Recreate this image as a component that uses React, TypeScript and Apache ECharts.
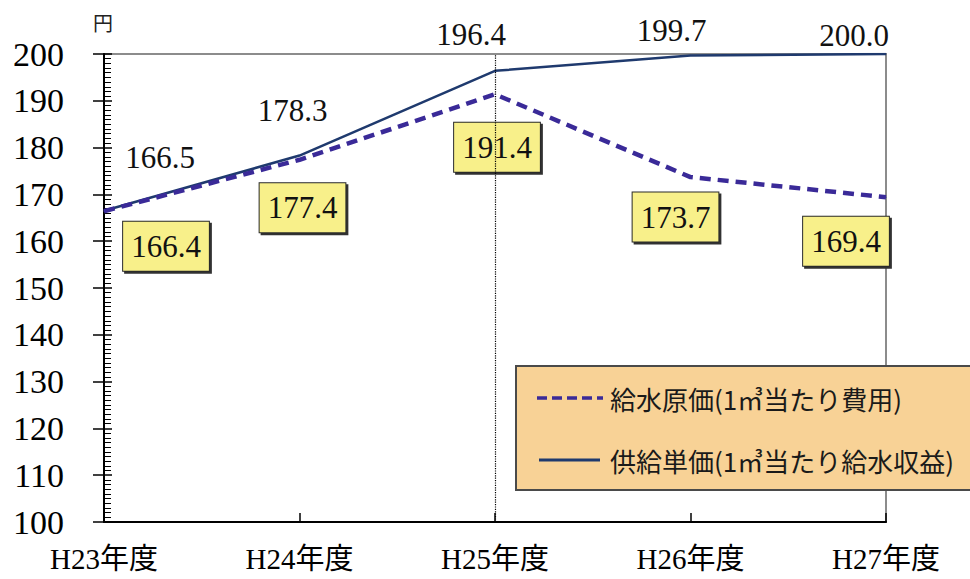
import React, { useEffect, useRef } from "react";
import * as echarts from "echarts";

// Fiscal years on the category axis
const categories = ["H23年度", "H24年度", "H25年度", "H26年度", "H27年度"];
// 給水原価 (cost per m³), yen
const costValues = [166.4, 177.4, 191.4, 173.7, 169.4];
// 供給単価 (revenue per m³), yen
const priceValues = [166.5, 178.3, 196.4, 199.7, 200.0];
// Value axis ticks
const yMin = 100;
const yMax = 200;
const yStep = 10;

const costName = "給水原価(1㎥当たり費用)";
const priceName = "供給単価(1㎥当たり給水収益)";

const COST_COLOR = "#3A2A98";
const PRICE_COLOR = "#1F3A6E";

// Label placement relative to each point (pixels)
const costLabelOffsets = [
  [62, 35],
  [3, 48],
  [2, 53],
  [-15, 40],
  [-40, 44],
];
const priceLabelOffsets = [
  [56, -53],
  [-7, -45],
  [-24, -36],
  [-19, -25],
  [-32, -19],
];

const NUM_FONT = "'Liberation Serif', 'Times New Roman', 'Noto Sans CJK JP', serif";
const CJK_FONT = "'Noto Sans CJK JP', 'Liberation Serif', serif";

export default function App() {
  const ref = useRef<HTMLDivElement>(null);

  useEffect(() => {
    if (!ref.current) return;
    const chart = echarts.init(ref.current, null, { renderer: "svg" });

    const costData = costValues.map((v, i) => ({
      value: v,
      label: { offset: costLabelOffsets[i] },
    }));
    const priceData = priceValues.map((v, i) => ({
      value: v,
      label: { offset: priceLabelOffsets[i] },
    }));

    chart.setOption({
      animation: false,
      backgroundColor: "#ffffff",
      grid: {
        left: 104,
        right: 84,
        top: 54,
        bottom: 57,
        show: true,
        borderColor: "#8c8c8c",
        borderWidth: 2,
        backgroundColor: "transparent",
      },
      graphic: [
        {
          // legend panel
          type: "group",
          silent: true,
          z: 10,
          children: [
            {
              type: "rect",
              shape: { x: 516, y: 366, width: 480, height: 124 },
              style: { fill: "#F8D296", stroke: "#4a4a4a", lineWidth: 2 },
            },
            {
              type: "line",
              shape: { x1: 537, y1: 398, x2: 603, y2: 398 },
              style: { stroke: COST_COLOR, lineWidth: 3.5, lineDash: [10, 5] },
            },
            {
              type: "text",
              x: 610,
              y: 398,
              style: {
                text: costName,
                font: `26px ${CJK_FONT}`,
                fill: "#1a1a1a",
                textVerticalAlign: "middle",
              },
            },
            {
              type: "line",
              shape: { x1: 539, y1: 460, x2: 600, y2: 460 },
              style: { stroke: PRICE_COLOR, lineWidth: 3 },
            },
            {
              type: "text",
              x: 610,
              y: 460,
              style: {
                text: priceName,
                font: `26px ${CJK_FONT}`,
                fill: "#1a1a1a",
                textVerticalAlign: "middle",
              },
            },
          ],
        },
        {
          type: "text",
          left: 93,
          top: 12,
          style: { text: "円", font: `20px ${CJK_FONT}`, fill: "#222" },
        },
      ],
      xAxis: {
        type: "category",
        data: categories,
        boundaryGap: false,
        axisLine: { lineStyle: { color: "#000", width: 2 } },
        axisTick: { show: true, inside: true, length: 9, lineStyle: { color: "#000", width: 1.5 } },
        axisLabel: {
          margin: 22,
          fontFamily: NUM_FONT,
          fontSize: 29,
          color: "#000",
        },
        splitLine: { show: false },
      },
      yAxis: [
        {
          type: "value",
          min: yMin,
          max: yMax,
          interval: yStep,
          axisLine: { show: true, lineStyle: { color: "#000", width: 2 } },
          axisTick: { show: true, length: 11, lineStyle: { color: "#000", width: 1.5 } },
          axisLabel: {
            margin: 40,
            fontFamily: NUM_FONT,
            fontSize: 34,
            color: "#000",
          },
          splitLine: { show: false },
        },
        {
          type: "value",
          position: "left",
          min: yMin,
          max: yMax,
          interval: yStep,
          axisLine: { show: false },
          axisLabel: { show: false },
          axisTick: { show: true, inside: true, length: 8, lineStyle: { color: "#000", width: 1.5 } },
          minorTick: { show: true, splitNumber: 10, length: 7, lineStyle: { color: "#000", width: 1 } },
          splitLine: { show: false },
        },
      ],
      series: [
        {
          name: priceName,
          type: "line",
          data: priceData,
          symbol: "circle",
          symbolSize: 1,
          z: 3,
          itemStyle: { color: PRICE_COLOR },
          lineStyle: { color: PRICE_COLOR, width: 2.5, type: "solid" },
          label: {
            show: true,
            position: "inside",
            formatter: (p: any) => Number(p.value).toFixed(1),
            fontFamily: NUM_FONT,
            fontSize: 31,
            color: "#111",
          },
          markLine: {
            silent: true,
            symbol: "none",
            label: { show: false },
            lineStyle: { color: "#000", type: "dotted", width: 1.2 },
            data: [{ xAxis: categories[2] }],
          },
        },
        {
          name: costName,
          type: "line",
          data: costData,
          symbol: "circle",
          symbolSize: 1,
          z: 4,
          itemStyle: { color: COST_COLOR },
          lineStyle: { color: COST_COLOR, width: 4.5, type: [11, 7] },
          label: {
            show: true,
            position: "inside",
            formatter: (p: any) => Number(p.value).toFixed(1),
            fontFamily: NUM_FONT,
            fontSize: 31,
            lineHeight: 31,
            color: "#111",
            backgroundColor: "#F8F08A",
            borderColor: "#2a2a2a",
            borderWidth: 1,
            padding: [9, 8],
            shadowColor: "#333",
            shadowOffsetX: 2,
            shadowOffsetY: 2,
            shadowBlur: 0,
          },
        },
      ],
    });

    return () => chart.dispose();
  }, []);

  return (
    <div
      ref={ref}
      style={{ position: "absolute", left: 0, top: 0, width: 970, height: 579 }}
    />
  );
}
